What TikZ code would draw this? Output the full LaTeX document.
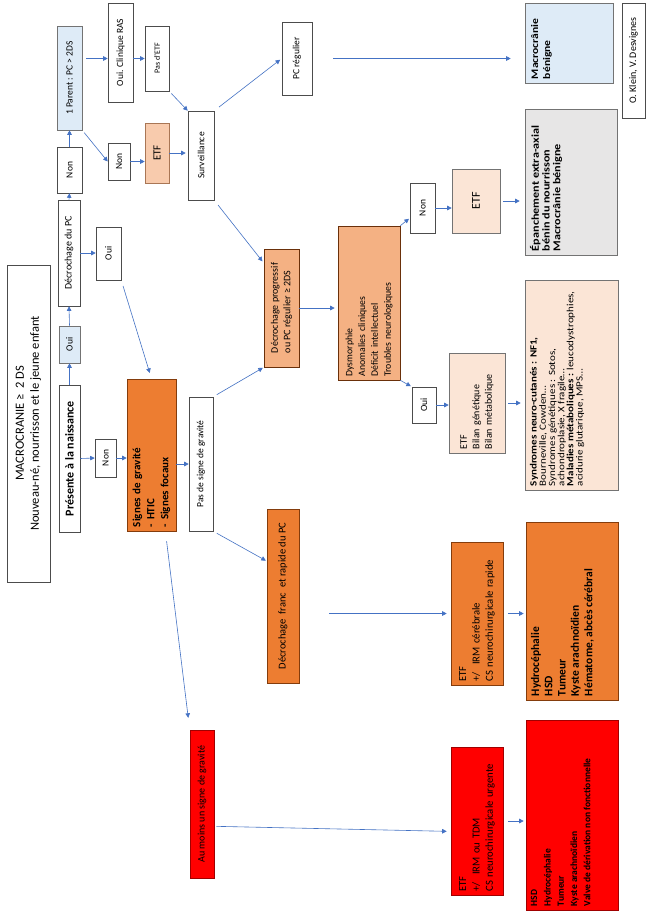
\documentclass[tikz,border=0pt]{standalone}
\usepackage{fontspec}
\setmainfont{Carlito}
\newfontfamily\widefont{Carlito}[FakeStretch=1.16]
\usetikzlibrary{arrows.meta,calc}
\definecolor{arrc}{HTML}{4472C4}
\definecolor{cblue}{HTML}{DEEBF7}
\definecolor{corange}{HTML}{ED7D31}
\definecolor{corborder}{HTML}{843C0C}
\definecolor{csalmon}{HTML}{F4B183}
\definecolor{clight}{HTML}{FBE5D6}
\definecolor{cgrey}{HTML}{E7E6E6}
\definecolor{cred}{HTML}{FF0000}
\definecolor{credborder}{HTML}{A00000}
\definecolor{cetf}{HTML}{F8CBAD}
\newcommand\toptext[3]{\parbox[c][#2pt][t]{#1pt}{\raggedright #3}}
\begin{document}
\begin{tikzpicture}[x=1pt,y=-1pt,
  box/.style={draw, rotate=90, inner sep=3pt, line width=0.6pt, align=center,
    font=\fontsize{9.5}{11}\selectfont},
  wbox/.style={box, fill=white, draw=black!70},
  bbox/.style={box, fill=cblue, draw=black!55},
  obox/.style={box, fill=corange, draw=corborder},
  sbox/.style={box, fill=csalmon, draw=corborder!80!black},
  lbox/.style={box, fill=clight, draw=black!55},
  gbox/.style={box, fill=cgrey, draw=black!55},
  rbox/.style={box, fill=cred, draw=credborder},
  arr/.style={draw=arrc, line width=0.6pt, -{Triangle[length=4.5pt,width=4.5pt]}}
]
\fill[white] (0,0) rectangle (649,914);
\useasboundingbox (0,0) rectangle (649,914);

% column 1
\node[wbox, minimum width=317, minimum height=43, font=\fontsize{12.5}{15}\selectfont] (title) at (28.5,423.5)
  {MACROCRANIE ≥\ \ 2 DS\\Nouveau-né, nourrisson et le jeune enfant};
\node[wbox, minimum width=147, minimum height=21, font=\fontsize{12}{13}\selectfont\bfseries] (pres) at (69.5,458.5) {Présente à la naissance};
\node[bbox, minimum width=37, minimum height=21] (oui1) at (69.5,344.5) {Oui};
\node[wbox, minimum width=106, minimum height=22, font=\fontsize{10}{11}\selectfont] (decro) at (69,253) {Décrochage du PC};
\node[wbox, minimum width=46, minimum height=25] (non2) at (69.5,170) {Non};
\node[bbox, minimum width=104, minimum height=25] (parent) at (69.5,78) {1 Parent : PC > 2DS};

% column 2
\node[wbox, minimum width=38, minimum height=21] (non1) at (105.5,458) {Non};
\node[wbox, minimum width=53, minimum height=25] (oui2) at (108.5,253.5) {Oui};
\node[wbox, minimum width=99, minimum height=25] (ouiras) at (120.5,52.5) {Oui. Clinique RAS};
\node[wbox, minimum width=37, minimum height=22] (non3) at (119,161.5) {Non};
\node[wbox, minimum width=65, minimum height=24, font=\fontsize{8}{10}\selectfont] (pasetf) at (157,58.5) {Pas d’ETF};
\node[box, fill=cetf, draw=corborder!70, minimum width=60, minimum height=24, font=\fontsize{11}{12}\selectfont] (etf1) at (157,153) {ETF};
\node[obox, minimum width=152, minimum height=49, text width=144, align=left, font=\fontsize{11}{14}\selectfont\bfseries] (signes) at (151.5,455)
  {Signes de gravité\\- HTIC\\- Signes focaux};

% column 3
\node[wbox, minimum width=89, minimum height=26] (surv) at (201,155.5) {Surveillance};
\node[wbox, minimum width=134, minimum height=24] (pasgrav) at (201,464) {Pas de signe de gravité};
\node[rbox, minimum width=148, minimum height=24, font=\fontsize{10}{11}\selectfont] (aumoins) at (202,804) {Au moins un signe de gravité};

% column 4
\node[wbox, minimum width=73, minimum height=30] (pcreg) at (297,58.5) {PC régulier};
\node[sbox, minimum width=118, minimum height=35, align=left, font=\fontsize{10}{12.5}\selectfont] (decprog) at (281.5,308)
  {Décrochage progressif\\ou PC régulier ≥ 2DS};
\node[obox, minimum width=174, minimum height=32, font=\fontsize{10.5}{11}\selectfont] (decfranc) at (283,596) {Décrochage\ \ franc\ \ et rapide du PC};

% column 5
\node[sbox, minimum width=154, minimum height=62, text width=147, align=left, font=\fontsize{9.8}{12.8}\selectfont] (dysm) at (369,303)
  {Dysmorphie\\Anomalies cliniques\\Déficit intellectuel\\Troubles neurologiques};

% column 6
\node[wbox, minimum width=50, minimum height=25] (non4) at (422.5,208) {Non};
\node[wbox, minimum width=36, minimum height=24] (oui3) at (424,405) {Oui};
\node[lbox, minimum width=64, minimum height=48, font=\fontsize{12}{13}\selectfont] (etf2) at (476,201) {ETF};
\node[lbox, minimum width=100, minimum height=56, text width=92, align=left, font=\fontsize{10}{12.5}\selectfont] (bilan) at (477,403)
  {ETF\\Bilan génétique\\Bilan métabolique};
\node[obox, minimum width=143, minimum height=52, text width=136, align=left, font=\fontsize{10.7}{13.3}\selectfont] (etfirm) at (477,613.5)
  {ETF\\+/\ \ IRM cérébrale\\CS neurochirurgicale rapide};
\node[rbox, minimum width=148, minimum height=52, text width=141, align=left, font=\fontsize{10.7}{13.3}\selectfont] (etfurg) at (477,821)
  {ETF\\+/\ \ IRM ou TDM\\CS neurochirurgicale urgente};

% column 7
\node[bbox, minimum width=80, minimum height=88, inner sep=3pt, font=\widefont\fontsize{10}{12}\selectfont\bfseries] (macro) at (569,43)
  {\toptext{72}{80}{\vspace{2pt}Macrocrânie\\bénigne}};
\node[gbox, minimum width=146, minimum height=92, inner sep=3pt, font=\widefont\fontsize{10.5}{10.8}\selectfont\bfseries] (epanch) at (571,182)
  {\toptext{138}{84}{\vspace{1pt}Épanchement extra-axial\\bénin du nourrisson\\Macrocrânie bénigne}};
\node[lbox, minimum width=210, minimum height=93, inner sep=3pt, font=\widefont\fontsize{9.5}{9.2}\selectfont] (synd) at (571.5,385)
  {\toptext{202}{85}{\vspace{1pt}\textbf{Syndromes neuro-cutanés : NF1,}\\Bourneville, Cowden…\\Syndromes génétiques : Sotos,\\achondroplasie, X fragile…\\\textbf{Maladies métaboliques :} leucodystrophies,\\acidurie glutarique, MPS…}};
\node[obox, minimum width=178, minimum height=92, inner sep=3pt, font=\fontsize{11.5}{13.3}\selectfont\bfseries] (hydro) at (572,611)
  {\toptext{170}{84}{\vspace{1pt}Hydrocéphalie\\HSD\\Tumeur\\Kyste arachnoïdien\\Hématome, abcès cérébral}};
\node[rbox, minimum width=190, minimum height=92, inner sep=3pt, font=\fontsize{9.5}{13.3}\selectfont\bfseries] (hsd) at (572,815)
  {\toptext{182}{84}{\vspace{1pt}HSD\\Hydrocéphalie\\Tumeur\\Kyste arachnoïdien\\Valve de dérivation non fonctionnelle}};
\node[wbox, minimum width=115, minimum height=23, font=\fontsize{10}{11}\selectfont] (klein) at (633.5,60.5) {O. Klein, V. Desvignes};

% connectors
\draw[arr] (pres.east) -- (oui1.west);
\draw[arr] (pres.south) -- (non1.north);
\draw[arr] (non1.south) -- (non1.south -| signes.north);
\draw[arr] (oui1.east) -- (decro.west);
\draw[arr] (decro.south) -- (decro.south -| oui2.north);
\draw[arr] (decro.east) -- (non2.west);
\draw[arr] (non2.east) -- (parent.west);
\draw[arr, shorten <=4pt] (parent.south |- pasetf) -- (ouiras.north |- pasetf);
\draw[arr] (ouiras.south |- pasetf) -- (pasetf.north);
\draw[arr, shorten <=3pt] (parent.south west) -- (non3.north);
\draw[arr] (non3.south) -- (non3.south -| etf1.north);
\draw[arr, shorten <=3pt] (pasetf.south west) -- (surv.north east);
\draw[arr, shorten >=2pt] (etf1.south) -- (etf1.south -| surv.north);
\draw[arr, shorten <=6pt, shorten >=2pt] (surv.south east) -- (pcreg.north);
\draw[arr, shorten <=21pt, shorten >=14pt] (pcreg.south) -- (pcreg.south -| macro.north);
\draw[arr, shorten <=6pt, shorten >=2pt] (surv.south west) -- ($(decprog.north east)!0.12!(decprog.north west)$);
\draw[arr, shorten <=6pt, shorten >=6pt] (oui2.south west) -- (signes.east);
\draw[arr] (signes.south |- pasgrav) -- (pasgrav.north);
\draw[arr, shorten <=4pt, shorten >=1pt] (pasgrav.south east) -- (decprog.north west);
\draw[arr, shorten <=4pt, shorten >=1pt] (pasgrav.south west) -- ($(decfranc.north east)!0.3!(decfranc.north west)$);
\draw[arr, shorten <=10pt, shorten >=12pt] ($(signes.south west)!0.22!(signes.north west)$) -- (aumoins.north east);
\draw[arr, shorten >=3pt] (decprog.south) -- (decprog.south -| dysm.north);
\draw[arr, shorten >=1pt] (dysm.south east) -- ($(non4.north west)!0.3!(non4.north east)$);
\draw[arr] (non4.south) -- (non4.south -| etf2.north);
\draw[arr, shorten <=3pt, shorten >=5pt] (etf2.south) -- (etf2.south -| epanch.north);
\draw[arr, shorten >=1pt] (dysm.south west) -- (oui3.north east);
\draw[arr] (oui3.south) -- (oui3.south -| bilan.north);
\draw[arr, shorten <=3pt, shorten >=4pt] (bilan.south) -- (bilan.south -| synd.north);
\draw[arr, shorten <=30pt, shorten >=4pt] (decfranc.south |- etfirm) -- (etfirm.north);
\draw[arr, shorten <=5pt, shorten >=2pt] (etfirm.south) -- (etfirm.south -| hydro.north);
\draw[arr, shorten <=2pt, shorten >=4pt] ($(aumoins.south east)!0.65!(aumoins.south west)$) -- ($(etfurg.north east)!0.57!(etfurg.north west)$);
\draw[arr, shorten <=5pt, shorten >=2pt] (etfurg.south) -- (etfurg.south -| hsd.north);
\end{tikzpicture}
\end{document}
